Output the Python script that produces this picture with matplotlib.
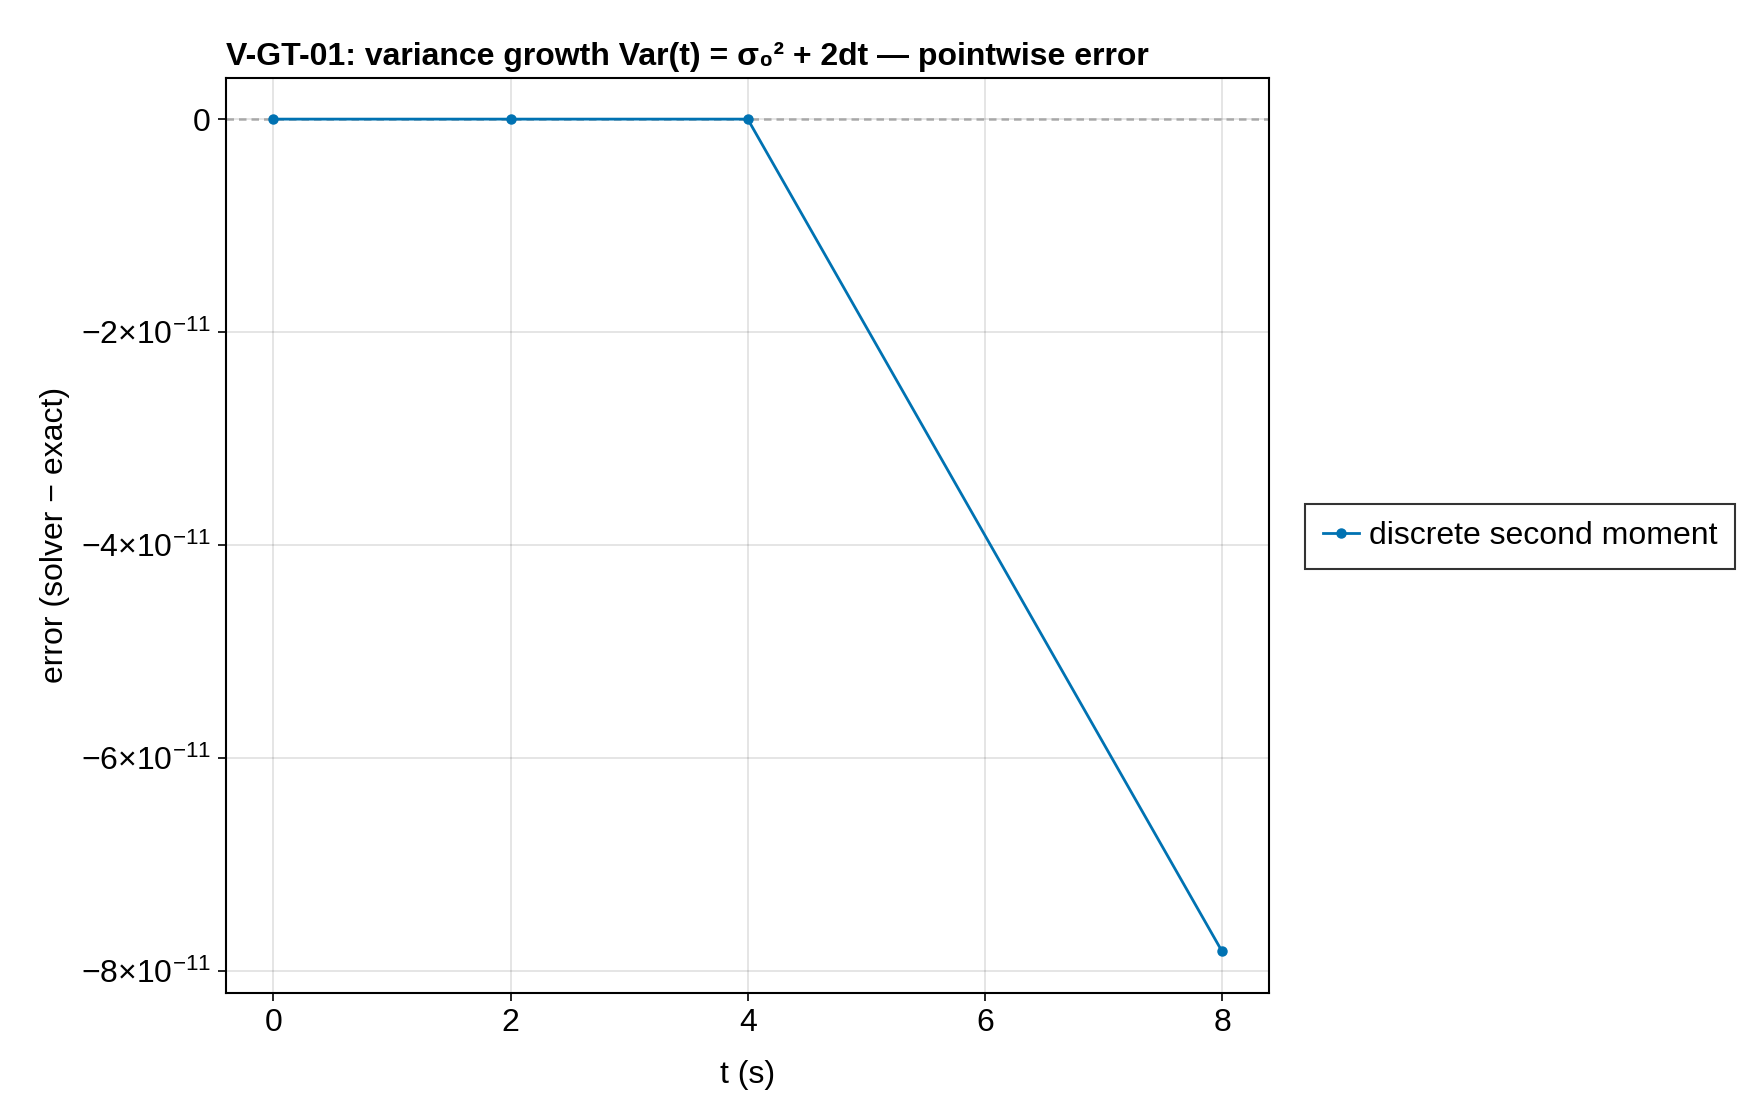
import numpy as np
import matplotlib
matplotlib.use("Agg")
import matplotlib.pyplot as plt
from matplotlib.ticker import FuncFormatter

plt.rcParams['font.family'] = ['Liberation Sans', 'DejaVu Sans']
plt.rcParams['mathtext.fontset'] = 'custom'
plt.rcParams['mathtext.rm'] = 'Liberation Sans'
plt.rcParams['mathtext.it'] = 'Liberation Sans:italic'

# data
t = [0, 2, 4, 8]
err = [0.0, 0.0, 0.0, -7.82e-11]
xticks = [0, 2, 4, 6, 8]
yticks = [0, -2e-11, -4e-11, -6e-11, -8e-11]

blue = '#0072B2'
fs = 23

def yfmt(v, pos):
    if abs(v) < 1e-20:
        return "0"
    m = v / 1e-11
    return r"$\mathrm{-%d{\times}10^{-11}}$" % abs(round(m))

fig = plt.figure(figsize=(17.6, 11.2), dpi=100)
ax = fig.add_axes([0.1284, 0.1134, 0.7213 - 0.1284, 0.9308 - 0.1134])

ax.axhline(0, color='#999999', lw=1.8, ls=(0, (3, 2)), alpha=0.8, zorder=1)
ax.plot(t, err, color=blue, lw=2.0, marker='o', ms=6.5,
        label='discrete second moment', zorder=3)

ax.set_xlim(-0.4, 8.4)
ax.set_ylim(-8.211e-11, 0.391e-11)
ax.set_xticks(xticks)
ax.set_yticks(yticks)
ax.yaxis.set_major_formatter(FuncFormatter(yfmt))
ax.grid(True, color='black', alpha=0.12, lw=1.2)
ax.set_axisbelow(True)
ax.tick_params(labelsize=fs, length=6, width=1.2, pad=5)
for s in ax.spines.values():
    s.set_linewidth(1.5)

ax.set_xlabel('t (s)', fontsize=fs, labelpad=16)
ax.set_ylabel('error (solver − exact)', fontsize=fs, labelpad=8)
ax.set_title('V-GT-01: variance growth Var(t) = σ₀² + 2dt — pointwise error',
             loc='left', fontsize=fs, fontweight='bold', pad=9)

leg = fig.legend(loc='center left', bbox_to_anchor=(0.7415, 0.521),
                 fontsize=fs, frameon=True, fancybox=False, edgecolor='black',
                 borderaxespad=0, handlelength=1.15, handletextpad=0.3,
                 borderpad=0.55)
leg.get_frame().set_linewidth(1.5)

fig.savefig('out.png', dpi=100)
